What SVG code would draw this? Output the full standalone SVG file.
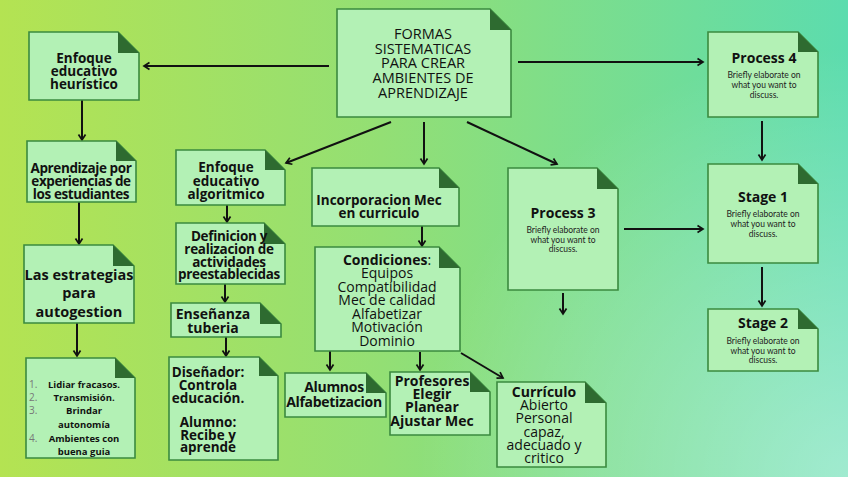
<svg xmlns="http://www.w3.org/2000/svg" width="848" height="477" viewBox="0 0 848 477">
<defs>
<linearGradient id="bg" x1="0" y1="0" x2="1" y2="0">
<stop offset="0" stop-color="#b4e352"/>
<stop offset="0.45" stop-color="#93df74"/>
<stop offset="1" stop-color="#5cdcae"/>
</linearGradient>
<radialGradient id="glow" cx="848" cy="477" r="430" gradientUnits="userSpaceOnUse">
<stop offset="0" stop-color="#ffffff" stop-opacity="0.42"/>
<stop offset="1" stop-color="#ffffff" stop-opacity="0"/>
</radialGradient>
<marker id="arr" viewBox="0 0 10 10" refX="8" refY="5" markerWidth="10" markerHeight="10" markerUnits="userSpaceOnUse" orient="auto">
<path d="M2.5,1.5 L8,5 L2.5,8.5" fill="none" stroke="#111" stroke-width="1.7"/>
</marker>
<style>
.box{fill:#b3f1b5;stroke:#3b8a3f;stroke-width:1.6}
.fold{fill:#2e6b30}
.b{font-family:"Open Sans","Noto Sans",sans-serif;font-weight:700;fill:#111;text-anchor:middle}
.r{font-family:"Open Sans","Noto Sans",sans-serif;font-weight:400;fill:#111;text-anchor:middle}
.s{font-family:"Lato","Noto Sans",sans-serif;font-weight:400;fill:#222;text-anchor:middle;font-size:8.5px}
.num{font-family:"Open Sans",sans-serif;font-weight:400;fill:#777;font-size:10px}
.c line{stroke:#111;stroke-width:2;marker-end:url(#arr)}
</style>
</defs>
<rect width="848" height="477" fill="url(#bg)"/>
<rect width="848" height="477" fill="url(#glow)"/>

<g class="c" id="connectors">
<line x1="329" y1="66" x2="144" y2="66"/>
<line x1="518" y1="62" x2="703" y2="62"/>
<line x1="391" y1="122" x2="286" y2="163"/>
<line x1="424" y1="122" x2="424" y2="164"/>
<line x1="467" y1="122" x2="557" y2="164"/>
<line x1="82" y1="100" x2="82" y2="140"/>
<line x1="79" y1="202" x2="79" y2="244"/>
<line x1="77" y1="320" x2="77" y2="356"/>
<line x1="227" y1="205" x2="227" y2="222"/>
<line x1="225" y1="284" x2="225" y2="302"/>
<line x1="226" y1="337" x2="226" y2="356"/>
<line x1="422" y1="226" x2="422" y2="246"/>
<line x1="330" y1="351" x2="330" y2="370"/>
<line x1="420" y1="352" x2="420" y2="370"/>
<line x1="461" y1="353" x2="503" y2="378"/>
<line x1="563" y1="293" x2="563" y2="314"/>
<line x1="624" y1="229" x2="703" y2="229"/>
<line x1="762" y1="121" x2="762" y2="160"/>
<line x1="762" y1="267" x2="762" y2="306"/>
</g>

<g id="formas">
<path class="box" d="M337,9 H490 L511,30 V117 H337 Z"/>
<path class="fold" d="M490,9 L511,30 H490 Z"/>
<g class="r" font-size="14.5">
<text x="423" y="39">FORMAS</text>
<text x="423" y="54">SISTEMATICAS</text>
<text x="423" y="68">PARA CREAR</text>
<text x="423" y="83">AMBIENTES DE</text>
<text x="423" y="98">APRENDIZAJE</text>
</g>
</g>

<g id="heuristico">
<path class="box" d="M29,32 H118 L139,53 V100 H29 Z"/>
<path class="fold" d="M118,32 L139,53 H118 Z"/>
<g class="b" font-size="13.5">
<text x="84" y="63">Enfoque</text>
<text x="84" y="76">educativo</text>
<text x="84" y="89">heurístico</text>
</g>
</g>

<g id="aprendizaje">
<path class="box" d="M27,141 H116 L136,161 V202 H27 Z"/>
<path class="fold" d="M116,141 L136,161 H116 Z"/>
<g class="b" font-size="13.5" letter-spacing="-0.4">
<text x="81" y="173">Aprendizaje por</text>
<text x="81" y="186">experiencias de</text>
<text x="81" y="199">los estudiantes</text>
</g>
</g>

<g id="estrategias">
<path class="box" d="M24,245 H113 L134,266 V323 H24 Z"/>
<path class="fold" d="M113,245 L134,266 H113 Z"/>
<g class="b" font-size="14.5">
<text x="79" y="280">Las estrategias</text>
<text x="79" y="298">para</text>
<text x="79" y="317">autogestion</text>
</g>
</g>

<g id="lista">
<path class="box" d="M26,358 H115 L135,378 V458 H26 Z"/>
<path class="fold" d="M115,358 L135,378 H115 Z"/>
<text class="num" x="29" y="388">1.</text>
<text class="num" x="29" y="401">2.</text>
<text class="num" x="29" y="414">3.</text>
<text class="num" x="29" y="442">4.</text>
<g class="b" font-size="9.5">
<text x="84" y="388">Lidiar fracasos.</text>
<text x="84" y="401">Transmisión.</text>
<text x="84" y="414">Brindar</text>
<text x="84" y="428">autonomía</text>
<text x="84" y="442">Ambientes con</text>
<text x="84" y="455">buena guia</text>
</g>
</g>

<g id="algoritmico">
<path class="box" d="M176,150 H265 L285,170 V205 H176 Z"/>
<path class="fold" d="M265,150 L285,170 H265 Z"/>
<g class="b" font-size="13.5">
<text x="226" y="172">Enfoque</text>
<text x="226" y="186">educativo</text>
<text x="226" y="199">algoritmico</text>
</g>
</g>

<g id="definicion">
<path class="box" d="M176,223 H264 L285,244 V284 H176 Z"/>
<path class="fold" d="M264,223 L285,244 H264 Z"/>
<g class="b" font-size="13.5" letter-spacing="-0.3">
<text x="229" y="241">Definicion y</text>
<text x="229" y="254">realizacion de</text>
<text x="229" y="267">actividades</text>
<text x="229" y="279">preestablecidas</text>
</g>
</g>

<g id="ensenanza">
<path class="box" d="M171,303 H260 L281,324 V337 H171 Z"/>
<path class="fold" d="M260,303 L281,324 H260 Z"/>
<g class="b" font-size="14">
<text x="213" y="319">Enseñanza</text>
<text x="213" y="333">tuberia</text>
</g>
</g>

<g id="disenador">
<path class="box" d="M169,357 H259 L278,376 V460 H169 Z"/>
<path class="fold" d="M259,357 L278,376 H259 Z"/>
<g class="b" font-size="13.5">
<text x="208" y="377">Diseñador:</text>
<text x="208" y="390">Controla</text>
<text x="208" y="403">educación.</text>
<text x="208" y="427">Alumno:</text>
<text x="208" y="440">Recibe y</text>
<text x="208" y="452">aprende</text>
</g>
</g>

<g id="incorporacion">
<path class="box" d="M312,168 H439 L459,188 V226 H312 Z"/>
<path class="fold" d="M439,168 L459,188 H439 Z"/>
<g class="b" font-size="13.5">
<text x="379" y="205">Incorporacion Mec</text>
<text x="379" y="218">en curriculo</text>
</g>
</g>

<g id="condiciones">
<path class="box" d="M315,247 H439 L460,268 V351 H315 Z"/>
<path class="fold" d="M439,247 L460,268 H439 Z"/>
<text class="b" x="387" y="265" font-size="14">Condiciones<tspan font-weight="400">:</tspan></text>
<g class="r" font-size="14">
<text x="387" y="278">Equipos</text>
<text x="387" y="292">Compatibilidad</text>
<text x="387" y="305">Mec de calidad</text>
<text x="387" y="319">Alfabetizar</text>
<text x="387" y="332">Motivación</text>
<text x="387" y="346">Dominio</text>
</g>
</g>

<g id="alumnos">
<path class="box" d="M285,373 H366 L386,393 V417 H285 Z"/>
<path class="fold" d="M366,373 L386,393 H366 Z"/>
<g class="b" font-size="14" letter-spacing="-0.3">
<text x="334" y="392">Alumnos</text>
<text x="334" y="407">Alfabetizacion</text>
</g>
</g>

<g id="profesores">
<path class="box" d="M390,372 H470 L490,392 V435 H390 Z"/>
<path class="fold" d="M470,372 L490,392 H470 Z"/>
<g class="b" font-size="14">
<text x="432" y="386">Profesores</text>
<text x="432" y="399">Elegir</text>
<text x="432" y="412">Planear</text>
<text x="432" y="426">Ajustar Mec</text>
</g>
</g>

<g id="curriculo">
<path class="box" d="M497,382 H585 L606,403 V467 H497 Z"/>
<path class="fold" d="M585,382 L606,403 H585 Z"/>
<text class="b" x="544" y="397" font-size="14">Currículo</text>
<g class="r" font-size="14">
<text x="544" y="410">Abierto</text>
<text x="544" y="423">Personal</text>
<text x="544" y="437">capaz,</text>
<text x="544" y="450">adecuado y</text>
<text x="544" y="463">critico</text>
</g>
</g>

<g id="process3">
<path class="box" d="M508,168 H597 L618,189 V290 H508 Z"/>
<path class="fold" d="M597,168 L618,189 H597 Z"/>
<text class="b" x="563" y="218" font-size="14">Process 3</text>
<text class="s" x="563" y="233">Briefly elaborate on</text>
<text class="s" x="563" y="243">what you want to</text>
<text class="s" x="563" y="252">discuss.</text>
</g>

<g id="process4">
<path class="box" d="M708,32 H798 L818,52 V117 H708 Z"/>
<path class="fold" d="M798,32 L818,52 H798 Z"/>
<text class="b" x="764" y="63" font-size="14">Process 4</text>
<text class="s" x="764" y="78">Briefly elaborate on</text>
<text class="s" x="764" y="88">what you want to</text>
<text class="s" x="764" y="98">discuss.</text>
</g>

<g id="stage1">
<path class="box" d="M708,164 H798 L818,184 V263 H708 Z"/>
<path class="fold" d="M798,164 L818,184 H798 Z"/>
<text class="b" x="763" y="202" font-size="14">Stage 1</text>
<text class="s" x="763" y="217">Briefly elaborate on</text>
<text class="s" x="763" y="227">what you want to</text>
<text class="s" x="763" y="237">discuss.</text>
</g>

<g id="stage2">
<path class="box" d="M708,309 H798 L818,329 V371 H708 Z"/>
<path class="fold" d="M798,309 L818,329 H798 Z"/>
<text class="b" x="763" y="328" font-size="14">Stage 2</text>
<text class="s" x="763" y="344">Briefly elaborate on</text>
<text class="s" x="763" y="354">what you want to</text>
<text class="s" x="763" y="363">discuss.</text>
</g>
</svg>
